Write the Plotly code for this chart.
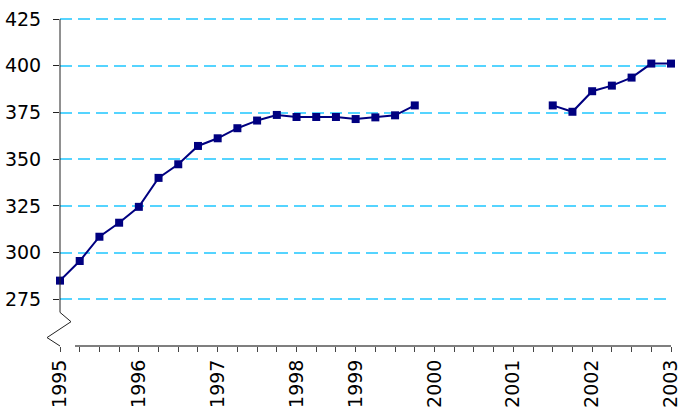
import plotly.graph_objects as go

# Category labels (one per quarter position on the axis)
periods = ["1995", "", "", "", "1996", "", "", "", "1997", "", "", "", "1998", "", "",
           "1999", "", "", "", "2000", "", "", "", "2001", "", "", "", "2002", "", "", "", "2003"]

values = [285.0, 295.5, 308.5, 316.0, 324.5, 340.0, 347.3, 357.1, 361.2, 366.6,
          370.7, 373.7, 372.6, 372.6, 372.6, 371.5, 372.4, 373.5, 378.8,
          None, None, None, None, None, None,
          378.8, 375.4, 386.4, 389.4, 393.7, 401.2, 401.2]

y_ticks = [275, 300, 325, 350, 375, 400, 425]
y_min, y_max = 250, 425.6

x_idx = list(range(len(periods)))

W, H = 679, 412
ML, MR, MT, MB = 60, 8, 18, 66
PW = W - ML - MR


def yf(v):
    return (v - y_min) / (y_max - y_min)


fig = go.Figure()
fig.add_trace(go.Scatter(
    x=x_idx, y=values, mode="lines+markers", connectgaps=False,
    line=dict(color="#000080", width=2),
    marker=dict(symbol="square", size=8, color="#000080"),
    cliponaxis=False, showlegend=False,
))

dx1 = 11 / PW
dx2 = -13 / PW
axis_color = "#222222"
shapes = [
    # y axis with break
    dict(type="path", xref="paper", yref="paper",
         path=f"M 0,{yf(425)} L 0,{yf(268)} L {dx1},{yf(263)} L {dx2},{yf(254.5)} L 0,0",
         line=dict(color=axis_color, width=1)),
    # x axis
    dict(type="line", xref="paper", yref="paper", x0=15 / PW, x1=1, y0=0, y1=0,
         line=dict(color="#555555", width=1.5)),
]

fig.update_layout(
    width=W, height=H,
    margin=dict(l=ML, r=MR, t=MT, b=MB, autoexpand=False),
    paper_bgcolor="white", plot_bgcolor="white",
    shapes=shapes,
    xaxis=dict(
        range=[0, len(periods) - 1], tickmode="array", tickvals=x_idx, ticktext=periods,
        tickangle=-90, ticks="outside", ticklen=5, tickcolor="#444444", tickwidth=1,
        showgrid=False, zeroline=False, showline=False, automargin=False,
        ticklabeloverflow="allow",
        tickfont=dict(family="DejaVu Sans", size=19, color="black"),
    ),
    yaxis=dict(
        range=[y_min, y_max], tickmode="array", tickvals=y_ticks,
        ticks="outside", ticklen=6, tickcolor="#222222", tickwidth=1,
        showgrid=True, gridcolor="#55D4FF", gridwidth=1.5, griddash="12px,6px",
        zeroline=False, showline=False, ticklabelstandoff=8, automargin=False,
        ticklabeloverflow="allow",
        tickfont=dict(family="DejaVu Sans", size=19, color="black"),
    ),
)

fig.write_html(
    "out.html",
    config={"displayModeBar": False},
    post_script="document.body.style.margin='0';document.body.style.overflow='hidden';",
)
